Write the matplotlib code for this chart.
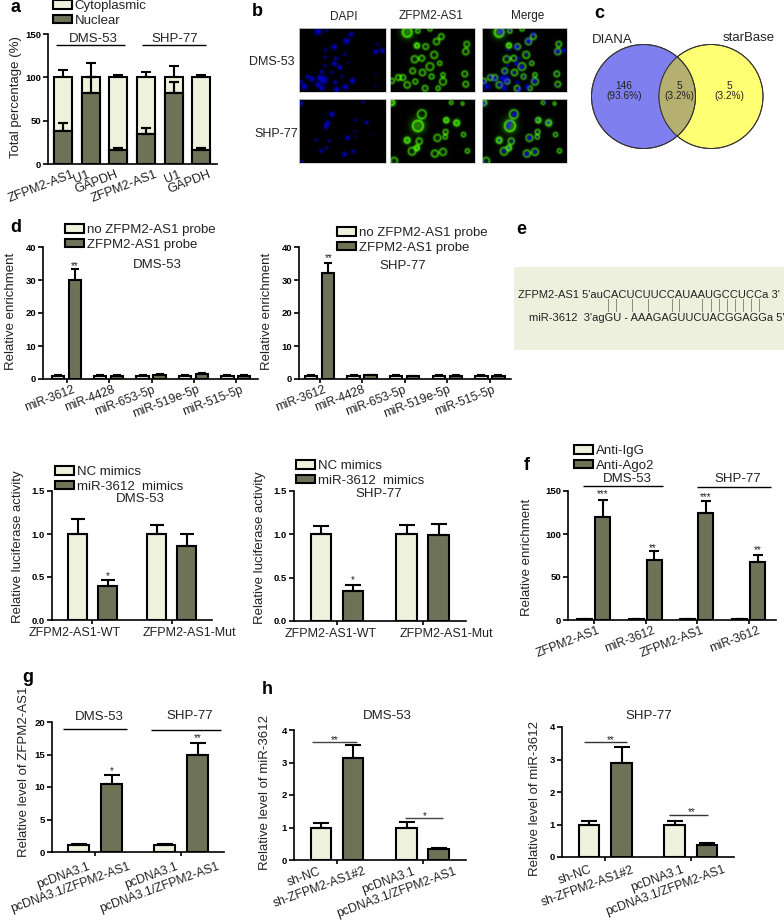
import numpy as np
import matplotlib
matplotlib.use("Agg")
import matplotlib.pyplot as plt
from matplotlib.patches import Circle, Rectangle

plt.rcParams["font.family"] = ["Liberation Sans", "DejaVu Sans"]
plt.rcParams["text.color"] = "#222222"

W, H = 784, 923
LIGHT = "#EEF2DC"
DARK = "#6E7358"

# panel a
a_labels = ["ZFPM2-AS1", "U1", "GAPDH", "ZFPM2-AS1", "U1", "GAPDH"]
a_nuclear = [38, 82, 16, 35, 82, 16]
a_nuclear_top = [47, 100, 19, 42, 95, 19]
a_cyto = [62, 18, 84, 65, 18, 84]
a_cyto_top = [109, 117, 103, 106, 113, 103]

# panel d
d_labels = ["miR-3612", "miR-4428", "miR-653-5p", "miR-519e-5p", "miR-515-5p"]
d1_probe_no = [1, 1, 1, 1, 1]
d1_probe_no_top = [1.2, 1.2, 1.2, 1.2, 1.2]
d1_probe = [30, 1, 1.2, 1.4, 1]
d1_probe_top = [33.3, 1.2, 1.5, 1.7, 1.2]
d2_probe_no = [1, 1, 1, 1, 1]
d2_probe_no_top = [1.2, 1.2, 1.2, 1.2, 1.2]
d2_probe = [32, 1.1, 0.8, 1, 1]
d2_probe_top = [35.3, 1.3, 1, 1.2, 1.2]

# luciferase panels
luc_labels = ["ZFPM2-AS1-WT", "ZFPM2-AS1-Mut"]
luc1_nc = [1.0, 1.0]
luc1_nc_top = [1.18, 1.1]
luc1_mim = [0.39, 0.86]
luc1_mim_top = [0.46, 1.0]
luc2_nc = [1.0, 1.0]
luc2_nc_top = [1.1, 1.11]
luc2_mim = [0.35, 0.99]
luc2_mim_top = [0.41, 1.12]

# panel f
f_labels = ["ZFPM2-AS1", "miR-3612", "ZFPM2-AS1", "miR-3612"]
f_igg = [1, 1, 1, 1]
f_igg_top = [1.5, 1.5, 1.5, 1.5]
f_ago = [120, 70, 124, 67]
f_ago_top = [140, 80, 138, 76]

# panel g
g_labels = ["pcDNA3.1", "pcDNA3.1/ZFPM2-AS1", "pcDNA3.1", "pcDNA3.1/ZFPM2-AS1"]
g_ctrl = [1.1, 1.1]
g_ctrl_top = [1.2, 1.2]
g_over = [10.5, 14.9]
g_over_top = [11.8, 16.8]

# panel h
h_labels = ["sh-NC", "sh-ZFPM2-AS1#2", "pcDNA3.1", "pcDNA3.1/ZFPM2-AS1"]
h1_ctrl = [1.0, 1.0]
h1_ctrl_top = [1.14, 1.16]
h1_test = [3.15, 0.33]
h1_test_top = [3.55, 0.37]
h2_ctrl = [1.0, 1.0]
h2_ctrl_top = [1.1, 1.11]
h2_test = [2.9, 0.38]
h2_test_top = [3.38, 0.42]

# venn
venn_counts = ["146\n(93.6%)", "5\n(3.2%)", "5\n(3.2%)"]

dapi_row1 = [(67, 20, 10), (93, 16, 5), (152, 48, 9), (166, 28, 7), (115, 66, 8), (89, 75, 5),
             (88, 97, 5), (120, 100, 6), (115, 116, 7), (131, 127, 7), (146, 88, 5), (158, 113, 4),
             (88, 122, 5), (78, 140, 6), (108, 143, 5), (138, 155, 5), (82, 165, 13), (70, 158, 6),
             (48, 162, 8), (35, 155, 6), (15, 170, 6), (25, 185, 9), (65, 180, 7), (78, 190, 7),
             (118, 172, 6), (122, 194, 8), (148, 186, 8), (170, 168, 8), (240, 80, 7), (260, 77, 7),
             (245, 58, 4), (238, 182, 4), (240, 146, 3)]
dapi_row2 = [(15, 235, 7), (108, 267, 8), (95, 293, 7), (90, 305, 7), (202, 230, 5), (178, 284, 5),
             (212, 292, 6), (178, 318, 4), (155, 338, 7), (178, 335, 4), (62, 345, 5), (100, 347, 5),
             (76, 377, 6), (91, 368, 5), (146, 387, 7), (172, 379, 6), (18, 408, 5), (232, 326, 3)]
# (x, y, radius, filled)
green_row1 = [(55, 22, 14, 1), (88, 18, 6, 0), (125, 12, 6, 0), (160, 35, 8, 0), (145, 50, 9, 0),
              (85, 62, 7, 1), (112, 65, 8, 0), (138, 90, 10, 0), (100, 100, 8, 0), (78, 103, 10, 0),
              (125, 125, 11, 0), (155, 115, 6, 0), (72, 138, 8, 0), (102, 143, 9, 0), (130, 155, 7, 0),
              (165, 150, 6, 0), (165, 170, 10, 0), (28, 158, 8, 0), (42, 158, 8, 0), (8, 168, 7, 0),
              (55, 180, 9, 0), (80, 170, 7, 0), (110, 190, 8, 0), (235, 80, 9, 0), (238, 58, 8, 0),
              (232, 147, 8, 0), (235, 178, 8, 0), (150, 190, 6, 0)]
green_row2 = [(8, 232, 8, 1), (100, 267, 13, 0), (88, 302, 16, 1), (175, 285, 7, 1), (207, 293, 8, 1),
              (148, 338, 10, 0), (173, 320, 7, 0), (172, 335, 6, 0), (55, 345, 8, 1), (92, 348, 9, 0),
              (70, 378, 11, 0), (85, 368, 7, 1), (140, 385, 10, 0), (165, 380, 10, 0), (240, 377, 6, 0),
              (228, 328, 6, 0), (15, 407, 10, 0), (190, 232, 5, 0), (225, 235, 4, 0)]

fig = plt.figure(figsize=(W / 100, H / 100), dpi=100)

# overlay in pixel coordinates for free text and lines
ov = fig.add_axes([0, 0, 1, 1], zorder=10)
ov.set_xlim(0, W)
ov.set_ylim(H, 0)
ov.axis("off")


def txt(x, y, s, size=9.5, **kw):
    kw.setdefault("ha", "center")
    kw.setdefault("va", "center")
    ov.text(x, y, s, fontsize=size, **kw)


def hline(x0, x1, y, lw=1.0, color="black"):
    ov.plot([x0, x1], [y, y], color=color, lw=lw, solid_capstyle="butt")


def make_axes(x0, ytop, x1, ybot, ymax, yticks, ylabel, label_x, label_y, fmt=None):
    ax = fig.add_axes([x0 / W, 1 - ybot / H, (x1 - x0) / W, (ybot - ytop) / H])
    ax.set_xlim(x0, x1)
    ax.set_ylim(0, ymax)
    ax.patch.set_alpha(0)
    for side in ["top", "right"]:
        ax.spines[side].set_visible(False)
    for side in ["left", "bottom"]:
        ax.spines[side].set_linewidth(1.2)
    ax.set_yticks(yticks)
    if fmt:
        ax.set_yticklabels([fmt % v for v in yticks])
    ax.tick_params(axis="y", length=3.5, width=1.2, pad=1.5, labelsize=6.8)
    for lab in ax.get_yticklabels():
        lab.set_fontweight("bold")
    ax.set_ylabel(ylabel, fontsize=9.5, color="#222222")
    ax.yaxis.set_label_coords(label_x, label_y, transform=ov.transData)
    ax.xaxis.remove_overlapping_locs = False
    return ax


def xlabels(ax, ticks, anchors, labels, rotation=21, size=9, pad=3.5):
    ax.set_xticks(ticks, [])
    ha = "right" if rotation else "center"
    ax.set_xticks(anchors, labels, minor=True, rotation=rotation, ha=ha, va="top",
                  rotation_mode="anchor", fontsize=size, color="#222222")
    ax.tick_params(axis="x", which="major", length=3, width=1.2)
    ax.tick_params(axis="x", which="minor", length=0, pad=pad)


def bars(ax, x, vals, tops, color, width, label=None, bottom=None, lw=1.5, cap=3.6):
    vals = np.array(vals, dtype=float)
    base = np.zeros(len(vals)) if bottom is None else np.array(bottom, dtype=float)
    container = ax.bar(x, vals, width, bottom=base, color=color, edgecolor="black",
                       linewidth=lw, label=label, zorder=2)
    upper = np.array(tops, dtype=float) - vals - base
    ax.errorbar(x, vals + base, yerr=[np.zeros(len(vals)), upper], fmt="none", ecolor="black",
                elinewidth=lw, capsize=cap, capthick=lw, zorder=3)
    return container


def legend(ax, x, y, size=9.5):
    ax.legend(loc="upper left", bbox_to_anchor=(x / W, 1 - y / H), bbox_transform=fig.transFigure,
              frameon=False, fontsize=size, handlelength=1.45, handleheight=0.6, handletextpad=0.2,
              labelspacing=0.22, borderpad=0, borderaxespad=0, labelcolor="#222222")


# ---- a ----
ax = make_axes(48, 34, 217, 164, 150, [0, 50, 100, 150], "Total percentage (%)", 22, 97)
ax_x = np.array([63, 90.5, 118, 146, 174, 201])
bars(ax, ax_x, a_nuclear, a_nuclear_top, DARK, 18, "Nuclear")
c = bars(ax, ax_x, a_cyto, a_cyto_top, LIGHT, 18, "Cytoplasmic", bottom=a_nuclear)
bars(ax, ax_x, a_nuclear, a_nuclear_top, DARK, 18)
xlabels(ax, [], [72, 87, 115, 155, 178, 208], a_labels, size=9.2)
h_, l_ = ax.get_legend_handles_labels()
ax.legend(h_[::-1], l_[::-1], loc="upper left", bbox_to_anchor=(53 / W, 1 - 0 / H),
          bbox_transform=fig.transFigure, frameon=False, fontsize=9.5, handlelength=1.45,
          handleheight=0.6, handletextpad=0.2, labelspacing=0.22, borderpad=0, borderaxespad=0)
hline(56, 125, 45)
hline(142, 206, 45)
txt(93, 39, "DMS-53", 9.5)
txt(175, 39, "SHP-77", 9.5)


# ---- b ----
def micrograph(blue, green, row_y, use_blue, use_green, x_off):
    ny, nx = 128, 174
    yy, xx = np.mgrid[0:ny, 0:nx] / 2.0
    b = np.zeros((ny, nx))
    g = np.zeros((ny, nx))
    if use_blue:
        for zx, zy, r in blue:
            px, py = (zx - 10) / 3, (zy - row_y) / 3
            s = max(r / 3 / 1.4, 0.8)
            b += min(1.0, r / 7) * np.exp(-((xx - px) ** 2 + (yy - py) ** 2) / (2 * s ** 2))
    if use_green:
        for zx, zy, r, filled in green:
            px, py = (zx - 3) / 3, (zy - row_y) / 3
            rad = r / 3
            d = np.hypot(xx - px, yy - py)
            g += 0.7 * np.exp(-((d - rad) ** 2) / (2 * 0.8 ** 2))
            g += (0.6 if filled else 0.12) * np.exp(-(d ** 2) / (2 * (rad * 1.0) ** 2))
    rgb = np.zeros((ny, nx, 3))
    rgb[..., 0] = np.clip(g, 0, 1) * 0.25
    rgb[..., 1] = np.clip(g, 0, 1) * 0.85 * (1 - np.clip(b, 0, 1) * 0.7)
    rgb[..., 2] = np.clip(b, 0, 1) * 0.85
    return rgb


img_cols = [(299, 386, True, False), (390, 475, False, True), (482, 567, True, True)]
img_rows = [(28, 92, dapi_row1, green_row1, 10), (99, 163, dapi_row2, green_row2, 222)]
for x0, x1, ub, ug in img_cols:
    for y0, y1, blue, green, row_y in img_rows:
        im_ax = fig.add_axes([x0 / W, 1 - y1 / H, (x1 - x0) / W, (y1 - y0) / H])
        im_ax.imshow(micrograph(blue, green, row_y, ub, ug, x0), aspect="auto", interpolation="bilinear")
        im_ax.set_xticks([])
        im_ax.set_yticks([])
        for sp in im_ax.spines.values():
            sp.set_edgecolor("#cfcfcf")
            sp.set_linewidth(0.6)
txt(344, 17, "DAPI", 8.5)
txt(431, 16, "ZFPM2-AS1", 8.5)
txt(528, 16, "Merge", 8.5)
txt(295, 62, "DMS-53", 9, ha="right")
txt(298, 134, "SHP-77", 9, ha="right")

# ---- c ----
left = Circle((643.5, 96.5), 52, facecolor="#7F7FF0", edgecolor="#333333", lw=0.7)
right = Circle((711, 96.5), 52, facecolor="#FFFF73", edgecolor="#333333", lw=0.7)
ov.add_patch(left)
ov.add_patch(right)
both = Circle((643.5, 96.5), 52, facecolor="#B5AF70", edgecolor="#333333", lw=0.7)
ov.add_patch(both)
both.set_clip_path(right)
ov.add_patch(Circle((643.5, 96.5), 52, fill=False, edgecolor="#333333", lw=0.7))
ov.add_patch(Circle((711, 96.5), 52, fill=False, edgecolor="#333333", lw=0.7))
ov.set_aspect("auto")
txt(612, 40, "DIANA", 9.5)
txt(749, 38, "starBase", 9.5)
for vx, vs in zip([624, 679, 729], venn_counts):
    txt(vx, 91, vs, 7.3, linespacing=0.95)

# ---- d ----
ax = make_axes(43, 247, 258, 379, 40, [0, 10, 20, 30, 40], "Relative enrichment", 17, 311)
step = np.arange(5) * 42.4
bars(ax, 57.8 + step, d1_probe_no, d1_probe_no_top, LIGHT, 12.3, "no ZFPM2-AS1 probe", cap=3)
bars(ax, 74.7 + step, d1_probe, d1_probe_top, DARK, 12.3, "ZFPM2-AS1 probe", cap=3)
xlabels(ax, 66.7 + step, [72, 112, 152, 197, 240], d_labels, size=8.8)
legend(ax, 65, 224)
txt(157, 265, "DMS-53", 9.5)
txt(75, 266, "**", 7)

ax = make_axes(299, 247, 511, 379, 40, [0, 10, 20, 30, 40], "Relative enrichment", 273, 311)
step = np.arange(5) * 42.6
bars(ax, 311 + step, d2_probe_no, d2_probe_no_top, LIGHT, 12.3, "no ZFPM2-AS1 probe", cap=3)
bars(ax, 328 + step, d2_probe, d2_probe_top, DARK, 12.3, "ZFPM2-AS1 probe", cap=3)
xlabels(ax, 319.5 + step, [323, 362, 403, 448, 492], d_labels, size=8.8)
legend(ax, 337, 227)
txt(403, 266, "SHP-77", 9.5)
txt(329, 258, "**", 7)

# ---- e ----
ov.add_patch(Rectangle((514, 267), 270, 83, facecolor="#EDF0DC", edgecolor="none", zorder=0))
txt(518, 295, "ZFPM2-AS1 5'auCACUCUUCCAUAAUGCCUCCa 3'", 8, ha="left")
txt(529, 318, "miR-3612  3'agGU - AAAGAGUUCUACGGAGGa 5'", 8, ha="left")
for zx in [295, 318, 365, 413, 487, 508, 577, 602, 627, 650, 675, 698, 722, 748]:
    ov.plot([510 + zx / 3] * 2, [299, 311], color="#8a8a80", lw=0.7)

# ---- luciferase ----
ax = make_axes(52, 491, 212, 620, 1.5, [0, 0.5, 1.0, 1.5], "Relative luciferase activity", 24, 547, "%.1f")
bars(ax, [77.5, 156.5], luc1_nc, luc1_nc_top, LIGHT, 19.5, "NC mimics", cap=5)
bars(ax, [107.5, 186.5], luc1_mim, luc1_mim_top, DARK, 19.5, "miR-3612  mimics", cap=5)
xlabels(ax, [92, 172], [75, 189], luc_labels, rotation=0, size=9, pad=5)
legend(ax, 55, 466)
txt(140, 499, "DMS-53", 9.5)
txt(108, 576, "*", 7)

ax = make_axes(294, 491, 466, 621, 1.5, [0, 0.5, 1.0, 1.5], "Relative luciferase activity", 266, 548, "%.1f")
bars(ax, [321, 406.5], luc2_nc, luc2_nc_top, LIGHT, 20.5, "NC mimics", cap=5.5)
bars(ax, [353, 438.5], luc2_mim, luc2_mim_top, DARK, 20.5, "miR-3612  mimics", cap=5.5)
xlabels(ax, [337, 423], [331, 446], luc_labels, rotation=0, size=9, pad=5)
legend(ax, 296, 460)
txt(379, 494, "SHP-77", 9.5)
txt(353, 580, "*", 7)

# ---- f ----
ax = make_axes(568, 491, 776, 620, 150, [0, 50, 100, 150], "Relative enrichment", 533, 557)
step = np.arange(4) * 51.7
bars(ax, 584.5 + step, f_igg, f_igg_top, LIGHT, 15, "Anti-IgG", cap=3)
bars(ax, 602.5 + step, f_ago, f_ago_top, DARK, 15, "Anti-Ago2", cap=3.6)
xlabels(ax, 594 + step, [597, 652, 701, 757], f_labels, size=8.8)
legend(ax, 574, 445)
hline(583, 663, 486)
hline(697, 771, 487)
txt(627, 479, "DMS-53", 9.5)
txt(738, 479, "SHP-77", 9.5)
for sx, sy, s in [(603, 494, "***"), (653, 548, "**"), (706, 497, "***"), (758, 550, "**")]:
    txt(sx, sy, s, 7)

# ---- g ----
ax = make_axes(52, 722, 224, 852, 20, [0, 5, 10, 15, 20], "Relative level of ZFPM2-AS1", 30, 772)
bars(ax, [78.5, 164.5], g_ctrl, g_ctrl_top, LIGHT, 20.5, cap=5.5)
bars(ax, [111.5, 197.5], g_over, g_over_top, DARK, 20.5, cap=5.5)
xlabels(ax, [95, 181], [87, 128, 175, 217], g_labels, rotation=20, size=8.8, pad=6)
hline(63, 127, 729)
hline(151, 221, 730)
txt(99, 717, "DMS-53", 9.5)
txt(190, 716, "SHP-77", 9.5)
txt(112, 771, "*", 7)
txt(198, 738, "**", 7)

# ---- h ----
ax = make_axes(294, 730, 466, 860, 4, [0, 1, 2, 3, 4], "Relative level of miR-3612", 271, 793)
bars(ax, [321, 406.5], h1_ctrl, h1_ctrl_top, LIGHT, 20.5, cap=5.5)
bars(ax, [353, 438.5], h1_test, h1_test_top, DARK, 20.5, cap=5.5)
xlabels(ax, [337, 423], [318, 364, 412, 454], h_labels, rotation=20, size=8.8, pad=4)
txt(387, 716, "DMS-53", 9.5)
hline(312, 357, 742, color="#444444")
hline(405, 443, 818, color="#444444")
txt(335, 740, "**", 7)
txt(425, 816, "*", 7)

ax = make_axes(562, 727, 734, 857, 4, [0, 1, 2, 3, 4], "Relative level of miR-3612", 541, 798)
bars(ax, [589, 674.5], h2_ctrl, h2_ctrl_top, LIGHT, 20.5, cap=5.5)
bars(ax, [621.5, 707], h2_test, h2_test_top, DARK, 20.5, cap=5.5)
xlabels(ax, [605, 691], [589, 632, 681, 723], h_labels, rotation=20, size=8.8, pad=5)
txt(649, 716, "SHP-77", 9.5)
hline(584, 627, 742, color="#333333")
hline(669, 708, 815, color="#333333")
txt(611, 740, "**", 7)
txt(692, 812, "**", 7)

# panel letters
for lx, ly, s in [(16, 8, "a"), (257, 12, "b"), (599, 14, "c"), (16, 227, "d"), (521, 229, "e"),
                  (527, 465, "f"), (28, 677, "g"), (267, 690, "h")]:
    txt(lx, ly, s, 13, fontweight="bold", color="black")

fig.savefig("out.png", dpi=100)
